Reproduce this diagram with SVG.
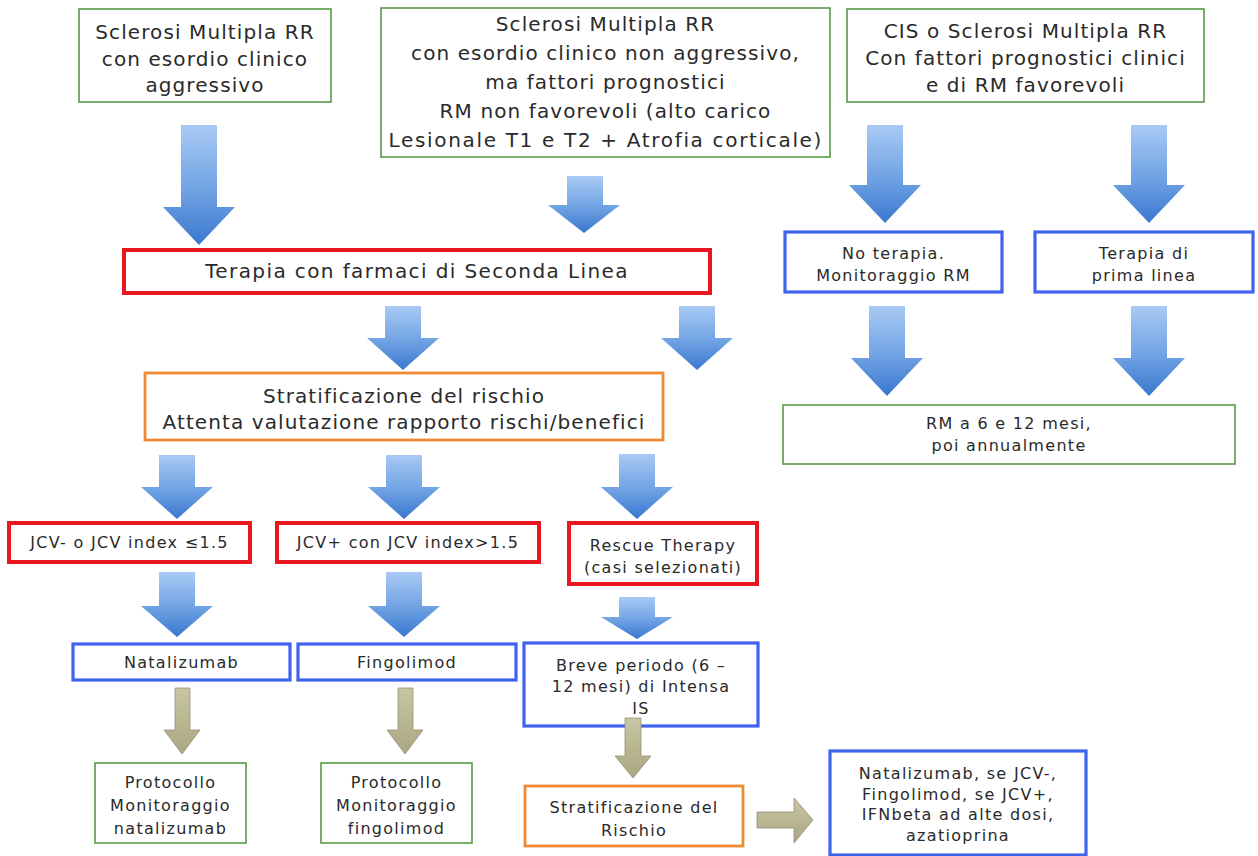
<svg xmlns="http://www.w3.org/2000/svg" width="1258" height="856" viewBox="0 0 1258 856">
<defs>
<linearGradient id="gBlue" x1="0" y1="0" x2="0" y2="1">
<stop offset="0" stop-color="#a9caf4"/>
<stop offset="0.55" stop-color="#6fa2e3"/>
<stop offset="1" stop-color="#3a77cf"/>
</linearGradient>
<linearGradient id="gOliveV" x1="0" y1="0" x2="0" y2="1">
<stop offset="0" stop-color="#c9c6a4"/>
<stop offset="1" stop-color="#aaa680"/>
</linearGradient>
</defs>
<style>
.t{font-family:"DejaVu Sans",Verdana,sans-serif;fill:#2a2a2a;text-anchor:middle}
.lg{font-size:20px;letter-spacing:1.1px}
.sm{font-size:16px;letter-spacing:1.3px}
.green{fill:#fff;stroke:#559a47;stroke-width:1.6}
.red{fill:#fff;stroke:#e81720;stroke-width:4}
.blue{fill:#fff;stroke:#3f63ee;stroke-width:3.2}
.orange{fill:#fff;stroke:#ef8a32;stroke-width:2.8}
.ba{fill:url(#gBlue)}
.oa{fill:url(#gOliveV);stroke:#94917a;stroke-width:0.8}
</style>
<rect width="1258" height="856" fill="#fff"/>

<g id="n1"><rect class="green" x="79" y="9" width="252" height="93"/>
<text class="t lg" x="205" y="39">Sclerosi Multipla RR</text>
<text class="t lg" x="205" y="66">con esordio clinico</text>
<text class="t lg" x="205" y="92">aggressivo</text></g>

<g id="n2"><rect class="green" x="381" y="8" width="449" height="149"/>
<text class="t lg" x="605.5" y="31">Sclerosi Multipla RR</text>
<text class="t lg" x="605.5" y="60">con esordio clinico non aggressivo,</text>
<text class="t lg" x="605.5" y="89">ma fattori prognostici</text>
<text class="t lg" x="605.5" y="118">RM non favorevoli (alto carico</text>
<text class="t lg" x="605.5" y="147" textLength="434" lengthAdjust="spacing">Lesionale T1 e T2 + Atrofia corticale)</text></g>

<g id="n3"><rect class="green" x="847" y="9" width="357" height="93"/>
<text class="t lg" x="1025.5" y="38">CIS o Sclerosi Multipla RR</text>
<text class="t lg" x="1025.5" y="65">Con fattori prognostici clinici</text>
<text class="t lg" x="1025.5" y="92">e di RM favorevoli</text></g>

<g id="n4"><rect class="red" x="124" y="250" width="586" height="43"/>
<text class="t lg" x="417" y="278" style="letter-spacing:1.4px">Terapia con farmaci di Seconda Linea</text></g>

<g id="n5"><rect class="blue" x="785" y="232" width="217" height="60"/>
<text class="t sm" x="893.5" y="259">No terapia.</text>
<text class="t sm" x="893.5" y="281">Monitoraggio RM</text></g>

<g id="n6"><rect class="blue" x="1035" y="232" width="218" height="60"/>
<text class="t sm" x="1144" y="259">Terapia di</text>
<text class="t sm" x="1144" y="281">prima linea</text></g>

<g id="n7"><rect class="orange" x="145" y="373" width="518" height="67"/>
<text class="t lg" x="404" y="403">Stratificazione del rischio</text>
<text class="t lg" x="404" y="429">Attenta valutazione rapporto rischi/benefici</text></g>

<g id="n8"><rect class="green" x="783" y="405" width="452" height="59"/>
<text class="t sm" x="1009" y="429">RM a 6 e 12 mesi,</text>
<text class="t sm" x="1009" y="451">poi annualmente</text></g>

<g id="n9"><rect class="red" x="9" y="523" width="241" height="39"/>
<text class="t sm" x="129.5" y="548">JCV- o JCV index ≤1.5</text></g>

<g id="n10"><rect class="red" x="277" y="523" width="262" height="39"/>
<text class="t sm" x="408" y="548">JCV+ con JCV index&gt;1.5</text></g>

<g id="n11"><rect class="red" x="569" y="523" width="188" height="61"/>
<text class="t sm" x="663" y="551">Rescue Therapy</text>
<text class="t sm" x="663" y="573">(casi selezionati)</text></g>

<g id="n12"><rect class="blue" x="73" y="644" width="217" height="36"/>
<text class="t sm" x="181.5" y="668">Natalizumab</text></g>

<g id="n13"><rect class="blue" x="298" y="644" width="218" height="36"/>
<text class="t sm" x="407" y="668">Fingolimod</text></g>

<g id="n14"><rect class="blue" x="524" y="643" width="234" height="83"/>
<text class="t sm" x="641" y="671">Breve periodo (6 –</text>
<text class="t sm" x="641" y="692">12 mesi) di Intensa</text>
<text class="t sm" x="641" y="714">IS</text></g>

<g id="n15"><rect class="green" x="95" y="763" width="151" height="80"/>
<text class="t sm" x="170.5" y="788">Protocollo</text>
<text class="t sm" x="170.5" y="811">Monitoraggio</text>
<text class="t sm" x="170.5" y="834">natalizumab</text></g>

<g id="n16"><rect class="green" x="321" y="763" width="151" height="80"/>
<text class="t sm" x="396.5" y="788">Protocollo</text>
<text class="t sm" x="396.5" y="811">Monitoraggio</text>
<text class="t sm" x="396.5" y="834">fingolimod</text></g>

<g id="n17"><rect class="orange" x="525" y="786" width="218" height="60"/>
<text class="t sm" x="634" y="813">Stratificazione del</text>
<text class="t sm" x="634" y="836">Rischio</text></g>

<g id="n18"><rect class="blue" x="830" y="751" width="256" height="104"/>
<text class="t sm" x="958" y="779">Natalizumab, se JCV-,</text>
<text class="t sm" x="958" y="800">Fingolimod, se JCV+,</text>
<text class="t sm" x="958" y="820">IFNbeta ad alte dosi,</text>
<text class="t sm" x="958" y="841">azatioprina</text></g>

<g id="connectors">
<path class="ba" d="M181,125H217V207H235L199,245L163,207H181Z"/>
<path class="ba" d="M567,176H603V205H620L584,233L548,205H567Z"/>
<path class="ba" d="M867,125H903V185H921L885,223L849,185H867Z"/>
<path class="ba" d="M1131,125H1167V185H1185L1149,223L1113,185H1131Z"/>
<path class="ba" d="M385,306H421V338H439L403,370L367,338H385Z"/>
<path class="ba" d="M679,306H715V338H733L697,370L661,338H679Z"/>
<path class="ba" d="M869,306H905V358H923L887,396L851,358H869Z"/>
<path class="ba" d="M1131,306H1167V358H1185L1149,396L1113,358H1131Z"/>
<path class="ba" d="M159,455H195V487H213L177,519L141,487H159Z"/>
<path class="ba" d="M386,455H422V487H440L404,519L368,487H386Z"/>
<path class="ba" d="M619,454H655V487H673L637,519L601,487H619Z"/>
<path class="ba" d="M159,572H195V606H213L177,637L141,606H159Z"/>
<path class="ba" d="M386,572H422V606H440L404,637L368,606H386Z"/>
<path class="ba" d="M619,597H655V617H673L637,639L601,617H619Z"/>
<path class="oa" d="M175,688H190V730H200L182,754L164,730H175Z"/>
<path class="oa" d="M398,688H413V730H423L405,754L387,730H398Z"/>
<path class="oa" d="M625,718H641V756H651L633,778L615,756H625Z"/>
<path class="oa" d="M757,812H794V798L813,820L794,843V828H757Z"/>
</g>
</svg>
